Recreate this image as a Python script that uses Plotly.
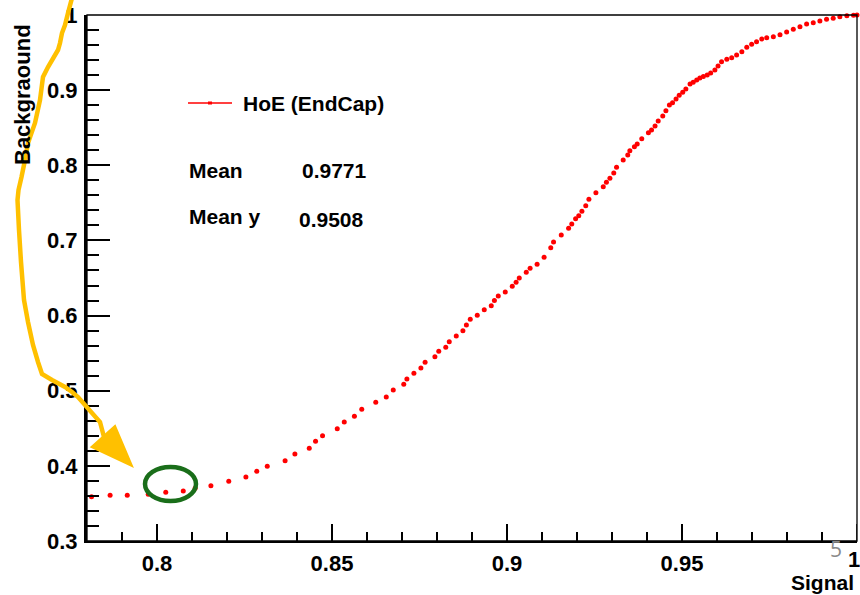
import plotly.graph_objects as go

# ---------------- data ----------------
signal_eff = [
    0.7813, 0.7866, 0.7915, 0.7975, 0.8025, 0.8075, 0.8109, 0.8154, 0.8205, 0.8254,
    0.8285, 0.8315, 0.8366, 0.8394, 0.8435, 0.8453, 0.8473, 0.8515, 0.8535, 0.8564,
    0.8585, 0.8625, 0.8655, 0.8675, 0.8705, 0.8714, 0.8734, 0.8754, 0.8766, 0.8794,
    0.8805, 0.8825, 0.8835, 0.8855, 0.8874, 0.8884, 0.8895, 0.8915, 0.8935, 0.8955,
    0.8964, 0.8975, 0.8995, 0.9015, 0.9026, 0.9035, 0.9055, 0.9066, 0.9086, 0.9106,
    0.9125, 0.9133, 0.9155, 0.9176, 0.9185, 0.9196, 0.9205, 0.9214, 0.9225, 0.9234,
    0.9254, 0.9275, 0.9284, 0.9294, 0.9305, 0.9313, 0.9332, 0.9345, 0.9351, 0.9364,
    0.9372, 0.9385, 0.9404, 0.9413, 0.9423, 0.9432, 0.9445, 0.9454, 0.9464, 0.9473,
    0.9483, 0.9492, 0.9502, 0.9511, 0.9523, 0.9532, 0.9542, 0.9551, 0.9561, 0.9572,
    0.9582, 0.9594, 0.9603, 0.9613, 0.9628, 0.9642, 0.9656, 0.9671, 0.9685, 0.9699,
    0.9713, 0.9728, 0.9742, 0.9761, 0.9780, 0.9799, 0.9818, 0.9837, 0.9856, 0.9875,
    0.9894, 0.9913, 0.9932, 0.9951, 0.9971, 0.9990, 1.0000,
]
background_eff = [
    0.3589, 0.3608, 0.3608, 0.3621, 0.3648, 0.3665, 0.3701, 0.3736, 0.3794, 0.3852,
    0.3927, 0.3994, 0.4068, 0.4158, 0.4233, 0.4327, 0.4401, 0.4494, 0.4583, 0.4659,
    0.4752, 0.4846, 0.4916, 0.5009, 0.5085, 0.5156, 0.5232, 0.5302, 0.5378, 0.5452,
    0.5524, 0.5578, 0.5652, 0.5728, 0.5799, 0.5874, 0.5950, 0.6003, 0.6078, 0.6131,
    0.6200, 0.6260, 0.6314, 0.6389, 0.6443, 0.6500, 0.6576, 0.6629, 0.6682, 0.6775,
    0.6903, 0.6979, 0.7072, 0.7161, 0.7219, 0.7289, 0.7329, 0.7388, 0.7462, 0.7547,
    0.7635, 0.7715, 0.7774, 0.7827, 0.7897, 0.7973, 0.8070, 0.8137, 0.8194, 0.8247,
    0.8283, 0.8354, 0.8434, 0.8470, 0.8523, 0.8589, 0.8656, 0.8726, 0.8802, 0.8833,
    0.8882, 0.8931, 0.8971, 0.9015, 0.9082, 0.9104, 0.9135, 0.9162, 0.9182, 0.9201,
    0.9228, 0.9268, 0.9321, 0.9378, 0.9410, 0.9432, 0.9468, 0.9512, 0.9570, 0.9610,
    0.9645, 0.9681, 0.9698, 0.9711, 0.9738, 0.9774, 0.9810, 0.9844, 0.9880, 0.9898,
    0.9920, 0.9943, 0.9956, 0.9977, 0.9991, 0.9996, 1.0000,
]

x_tick_vals = [0.80, 0.85, 0.90, 0.95, 1.00]
x_tick_text = ["0.8", "0.85", "0.9", "0.95", "1"]
y_tick_vals = [0.3, 0.4, 0.5, 0.6, 0.7, 0.8, 0.9, 1.0]
y_tick_text = ["0.3", "0.4", "0.5", "0.6", "0.7", "0.8", "0.9", "1"]

series_name = "HoE (EndCap)"
stats_labels = ["Mean", "Mean y"]
stats_values = ["0.9771", "0.9508"]
x_title = "Signal"
y_title = "Backgraound"
slide_number = "5"

# ---------------- layout helpers ----------------
W, H = 860, 595
L, R, T, B = 87, 857, 15, 541


def px(x):
    return (x - L) / (R - L)


def py(y):
    return (B - y) / (B - T)


FONT = "Liberation Sans, Arial, sans-serif"
RED = "#ff0000"
GOLD = "#FFC000"
GREEN = "#1a6e1a"
TICK_FONT = dict(family=FONT, size=22, color="black", weight="bold")

fig = go.Figure()
fig.add_trace(go.Scatter(
    x=signal_eff, y=background_eff, mode="markers",
    marker=dict(color=RED, size=5, symbol="circle", line=dict(width=0)),
    name=series_name, showlegend=False, cliponaxis=False,
))

axis_common = dict(
    showgrid=False, zeroline=False, ticks="inside", tickcolor="black",
    tickwidth=1.5, showline=True, linecolor="black", mirror=False,
    tickfont=TICK_FONT,
)

fig.update_layout(
    width=W, height=H,
    margin=dict(l=L, r=W - R, t=T, b=H - B, pad=0),
    paper_bgcolor="white", plot_bgcolor="white",
    showlegend=False,
    xaxis=dict(
        range=[0.78, 1.0], tickmode="array", tickvals=x_tick_vals[:-1],
        ticktext=x_tick_text[:-1], ticklen=17, linewidth=2,
        minor=dict(ticks="inside", ticklen=9, dtick=0.01, tick0=0.8,
                   tickcolor="black", tickwidth=1.5, showgrid=False),
        ticklabelstandoff=2,
        **axis_common,
    ),
    yaxis=dict(
        range=[0.3, 1.0], tickmode="array", tickvals=y_tick_vals,
        ticktext=y_tick_text, ticklen=23, linewidth=3,
        minor=dict(ticks="inside", ticklen=12, dtick=0.02, tick0=0.3,
                   tickcolor="black", tickwidth=1.5, showgrid=False),
        ticklabelstandoff=2,
        **axis_common,
    ),
)

shapes = []
# thin frame (top and right borders)
shapes.append(dict(type="rect", xref="paper", yref="paper", x0=0, x1=1, y0=0, y1=1,
                   line=dict(color="black", width=1.3), layer="above"))
# major tick at x = 1 (drawn on the right border)
shapes.append(dict(type="line", xref="x", yref="paper",
                   x0=x_tick_vals[-1], x1=x_tick_vals[-1], y0=0, y1=17 / (B - T),
                   line=dict(color="black", width=1.5)))

# legend line with marker
shapes.append(dict(type="line", xref="paper", yref="paper",
                   x0=px(188), x1=px(232), y0=py(103), y1=py(103),
                   line=dict(color=RED, width=1.5)))
shapes.append(dict(type="rect", xref="paper", yref="paper",
                   x0=px(208), x1=px(212), y0=py(104.5), y1=py(101.5),
                   line=dict(width=0), fillcolor=RED))

# yellow hand drawn arrow
arrow_pts = [(72, -2), (68, 13), (65, 25), (62, 33), (60, 43), (58, 50), (48, 67),
             (43, 77), (40, 100), (35, 123), (28, 143), (25, 160), (21.5, 177),
             (18.5, 190), (17.5, 200), (19, 230), (21, 262), (24, 300), (28, 322),
             (33, 345), (38, 362), (42, 374), (52, 380), (65, 387), (72, 392),
             (78, 397), (100, 422), (104, 437)]
path = "M " + " L ".join(f"{px(a):.5f},{py(b):.5f}" for a, b in arrow_pts)
shapes.append(dict(type="path", xref="paper", yref="paper", path=path,
                   line=dict(color=GOLD, width=4.5), layer="above"))
head = [(91.5, 447), (115, 426), (132, 466)]
hpath = "M " + " L ".join(f"{px(a):.5f},{py(b):.5f}" for a, b in head) + " Z"
shapes.append(dict(type="path", xref="paper", yref="paper", path=hpath,
                   line=dict(color=GOLD, width=2), fillcolor=GOLD, layer="above"))

# green ellipse
shapes.append(dict(type="circle", xref="paper", yref="paper",
                   x0=px(145), x1=px(196), y0=py(501), y1=py(467),
                   line=dict(color=GREEN, width=4.5), layer="above"))
fig.update_layout(shapes=shapes)

ann_font = dict(family=FONT, size=21, color="black", weight="bold")
annotations = [
    dict(text=series_name, x=px(241), y=py(103), xanchor="left", yanchor="middle",
         font=ann_font),
    dict(text=stats_labels[0], x=px(187), y=py(170), xanchor="left", yanchor="middle",
         font=ann_font),
    dict(text=stats_values[0], x=px(300), y=py(170), xanchor="left", yanchor="middle",
         font=ann_font),
    dict(text=stats_labels[1], x=px(187), y=py(216), xanchor="left", yanchor="middle",
         font=ann_font),
    dict(text=stats_values[1], x=px(297), y=py(219), xanchor="left", yanchor="middle",
         font=ann_font),
    # last x tick label at the page edge as in the reference
    dict(text=x_tick_text[-1], x=px(846), y=py(545), xanchor="left", yanchor="top",
         font=TICK_FONT),
    dict(text=x_title, x=px(856), y=py(582), xanchor="right", yanchor="middle",
         font=dict(family=FONT, size=21, color="black", weight="bold")),
    dict(text=y_title, x=px(23), y=py(95), xanchor="center", yanchor="middle",
         textangle=-90, font=dict(family=FONT, size=22, color="black", weight="bold")),
    dict(text=slide_number, x=px(836), y=py(549), xanchor="center", yanchor="middle",
         font=dict(family="Open Sans, Liberation Sans, sans-serif", size=21,
                   color="#8a8a8a")),
]
for a in annotations:
    a.update(xref="paper", yref="paper", showarrow=False)
fig.update_layout(annotations=annotations)

fig.write_html("out.html")
